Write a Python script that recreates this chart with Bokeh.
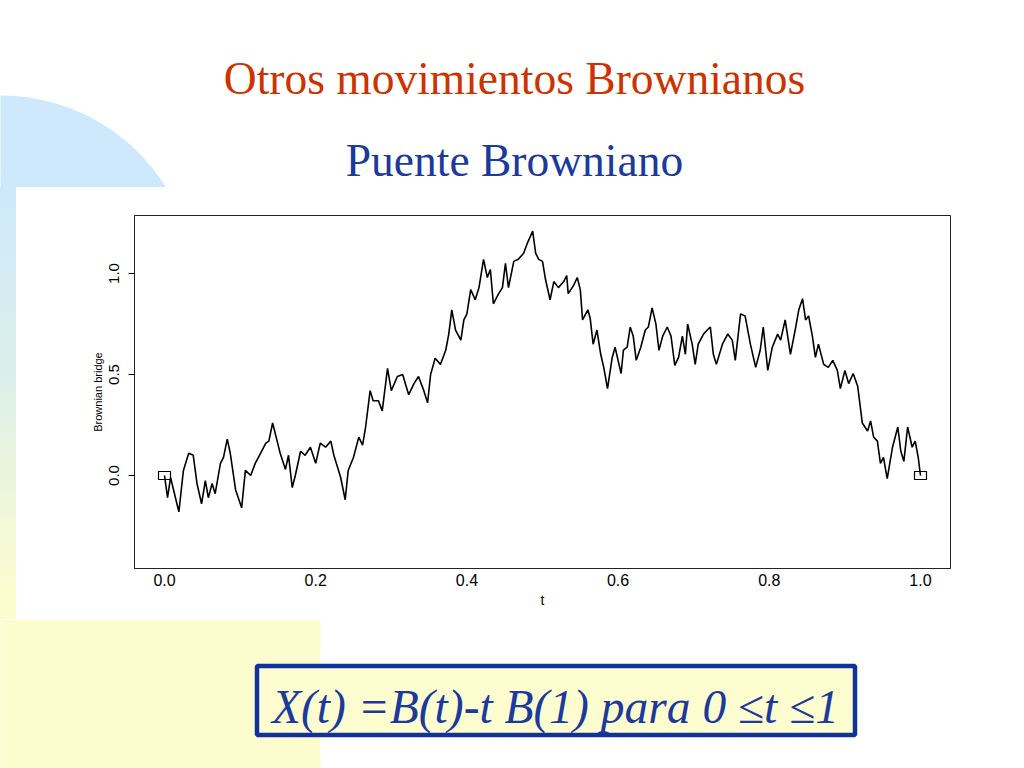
from bokeh.plotting import figure
from bokeh.layouts import column, row
from bokeh.models import Range1d, FixedTicker, PrintfTickFormatter, Label
from bokeh.embed import file_html
from bokeh.resources import INLINE

title_text = "Otros movimientos Brownianos"
subtitle_text = "Puente Browniano"
formula_text = "X(t) =B(t)-t B(1) para 0 \u2264t \u22641"
x_label = "t"
y_label = "Brownian bridge"

t_vals = [
    0.000, 0.004, 0.008, 0.019, 0.025, 0.032, 0.038, 0.043, 0.049, 0.054,
    0.058, 0.063, 0.067, 0.074, 0.078, 0.083, 0.087, 0.094, 0.102, 0.107,
    0.114, 0.120, 0.127, 0.134, 0.138, 0.143, 0.149, 0.153, 0.160, 0.164,
    0.169, 0.173, 0.180, 0.186, 0.193, 0.200, 0.206, 0.213, 0.220, 0.224,
    0.229, 0.233, 0.239, 0.243, 0.250, 0.257, 0.262, 0.266, 0.272, 0.276,
    0.283, 0.288, 0.295, 0.300, 0.308, 0.315, 0.323, 0.330, 0.336, 0.343,
    0.348, 0.352, 0.358, 0.365, 0.372, 0.376, 0.380, 0.385, 0.392, 0.396,
    0.400, 0.405, 0.411, 0.416, 0.422, 0.427, 0.431, 0.435, 0.442, 0.447,
    0.451, 0.455, 0.462, 0.468, 0.475, 0.480, 0.487, 0.491, 0.495, 0.500,
    0.504, 0.510, 0.515, 0.521, 0.528, 0.532, 0.534, 0.541, 0.546, 0.550,
    0.553, 0.560, 0.563, 0.567, 0.572, 0.577, 0.581, 0.586, 0.592, 0.596,
    0.600, 0.604, 0.607, 0.612, 0.616, 0.620, 0.624, 0.630, 0.636, 0.640,
    0.645, 0.650, 0.654, 0.659, 0.665, 0.670, 0.675, 0.680, 0.685, 0.689,
    0.692, 0.698, 0.702, 0.706, 0.713, 0.718, 0.722, 0.726, 0.730, 0.738,
    0.745, 0.751, 0.755, 0.762, 0.768, 0.775, 0.782, 0.788, 0.792, 0.798,
    0.804, 0.811, 0.815, 0.821, 0.828, 0.835, 0.839, 0.844, 0.848, 0.852,
    0.857, 0.861, 0.865, 0.872, 0.878, 0.884, 0.890, 0.894, 0.900, 0.905,
    0.911, 0.917, 0.923, 0.930, 0.934, 0.938, 0.943, 0.947, 0.951, 0.956,
    0.963, 0.970, 0.974, 0.978, 0.983, 0.989, 0.993, 0.997, 1.000]

bridge_vals = [
    0.00, -0.11, -0.01, -0.18, 0.025, 0.11, 0.10, -0.04, -0.14, -0.025,
    -0.11, -0.04, -0.09, 0.06, 0.09, 0.18, 0.11, -0.07, -0.16, 0.025,
    0.00, 0.06, 0.11, 0.16, 0.17, 0.26, 0.17, 0.11, 0.03, 0.10,
    -0.06, 0.00, 0.12, 0.10, 0.14, 0.06, 0.16, 0.14, 0.17, 0.10,
    0.04, -0.01, -0.12, 0.025, 0.09, 0.19, 0.15, 0.24, 0.42, 0.37,
    0.37, 0.32, 0.53, 0.42, 0.49, 0.50, 0.40, 0.455, 0.49, 0.42,
    0.36, 0.50, 0.58, 0.55, 0.62, 0.70, 0.82, 0.72, 0.67, 0.77,
    0.80, 0.92, 0.87, 0.93, 1.07, 0.98, 1.02, 0.85, 0.90, 0.93,
    1.05, 0.93, 1.06, 1.07, 1.10, 1.15, 1.21, 1.10, 1.07, 1.06,
    0.97, 0.87, 0.96, 0.93, 0.96, 0.99, 0.90, 0.94, 0.98, 0.92,
    0.77, 0.82, 0.78, 0.65, 0.72, 0.60, 0.535, 0.43, 0.58, 0.635,
    0.57, 0.505, 0.62, 0.635, 0.735, 0.69, 0.57, 0.635, 0.72, 0.735,
    0.83, 0.75, 0.62, 0.69, 0.735, 0.69, 0.545, 0.585, 0.69, 0.60,
    0.75, 0.65, 0.55, 0.65, 0.70, 0.72, 0.735, 0.60, 0.55, 0.65,
    0.70, 0.67, 0.57, 0.80, 0.79, 0.65, 0.535, 0.62, 0.735, 0.52,
    0.635, 0.70, 0.67, 0.77, 0.60, 0.735, 0.82, 0.875, 0.77, 0.79,
    0.69, 0.585, 0.65, 0.55, 0.535, 0.57, 0.52, 0.43, 0.52, 0.455,
    0.505, 0.44, 0.26, 0.22, 0.27, 0.19, 0.17, 0.06, 0.09, -0.015,
    0.14, 0.24, 0.12, 0.07, 0.24, 0.14, 0.17, 0.09, 0.00]

end_t = [0.0, 1.0]
end_vals = [0.0, 0.0]
x_ticks = [0.0, 0.2, 0.4, 0.6, 0.8, 1.0]
y_ticks = [0.0, 0.5, 1.0]

BLUE_BG = "#cde9fb"
YELLOW_BG = "#fdfcce"


def deco(width, height, x0, y0):
    p = figure(width=width, height=height,
               x_range=Range1d(x0, x0 + width), y_range=Range1d(y0 + height, y0),
               output_backend="svg", toolbar_location=None,
               x_axis_location=None, y_axis_location=None,
               min_border=0, outline_line_color=None,
               background_fill_color="white", border_fill_color="white")
    for g in p.grid:
        g.visible = False
    return p


# ---------- top band (page y 0..187) ----------
top = deco(1024, 187, 0, 0)
top.circle(x=[0], y=[290], radius=195, fill_color=BLUE_BG, line_color=None)
top.add_layout(Label(x=514, y=78, text=title_text, text_font="Liberation Serif",
                     text_font_size="45.5px", text_color="#cc3300",
                     text_align="center", text_baseline="alphabetic"))
top.add_layout(Label(x=514, y=160, text=subtitle_text, text_font="Liberation Serif",
                     text_font_size="45.5px", text_color="#1b3a9c",
                     text_align="center", text_baseline="alphabetic"))

# ---------- chart (page y 187..619); left 16px strip is a CSS gradient ----------
chart = figure(frame_width=816, frame_height=353,
               x_range=Range1d(-0.0397, 1.0397), y_range=Range1d(-0.4604, 1.287),
               output_backend="svg", toolbar_location=None,
               min_border_left=134, min_border_right=74,
               min_border_top=28, min_border_bottom=51,
               background_fill_color="white", border_fill_alpha=0,
               outline_line_color="#222222", outline_line_width=1)
chart.styles = {
    "background": "linear-gradient(to bottom, %s 0%%, #dcefe9 45%%, %s 95%%) "
                  "0 0 / 16px 100%% no-repeat, #ffffff" % (BLUE_BG, YELLOW_BG)
}
chart.grid.visible = False
chart.line(t_vals, bridge_vals, line_color="black", line_width=1.6)
chart.rect(x=end_t, y=end_vals, width=12, height=8, width_units="screen",
           height_units="screen", fill_color=None, line_color="black", line_width=1.2)

xa = chart.xaxis[0]
xa.ticker = FixedTicker(ticks=x_ticks)
xa.formatter = PrintfTickFormatter(format="%.1f")
xa.axis_label = x_label
xa.major_tick_out = 0
xa.major_tick_in = 0
xa.minor_tick_out = 0
xa.minor_tick_in = 0
xa.major_label_standoff = 5
xa.axis_label_standoff = 3
xa.major_label_text_font = "Liberation Sans"
xa.major_label_text_font_size = "16px"
xa.major_label_text_color = "black"
xa.axis_label_text_font = "Liberation Sans"
xa.axis_label_text_font_size = "14px"
xa.axis_label_text_font_style = "normal"
xa.axis_label_text_color = "black"
xa.axis_line_color = "#222222"

ya = chart.yaxis[0]
ya.ticker = FixedTicker(ticks=y_ticks)
ya.formatter = PrintfTickFormatter(format="%.1f")
ya.axis_label = y_label
ya.major_tick_out = 6
ya.major_tick_in = 0
ya.minor_tick_out = 0
ya.minor_tick_in = 0
ya.major_tick_line_color = "black"
ya.major_label_orientation = "vertical"
ya.major_label_standoff = 9
ya.axis_label_standoff = 3
ya.major_label_text_font = "Liberation Sans"
ya.major_label_text_font_size = "15px"
ya.major_label_text_color = "black"
ya.axis_label_text_font = "Liberation Sans"
ya.axis_label_text_font_size = "11px"
ya.axis_label_text_font_style = "normal"
ya.axis_label_text_color = "black"
ya.axis_line_color = "#222222"

# ---------- bottom band (page y 619..768) ----------
bottom = deco(1024, 149, 0, 619)
bottom.quad(left=[-2], right=[320], top=[619], bottom=[780],
            fill_color=YELLOW_BG, line_color=None)
bottom.quad(left=[256.5], right=[854.5], top=[665.5], bottom=[734.5],
            fill_color="#fdfdd0", line_color="#10329a", line_width=4.5)
bottom.add_layout(Label(x=555, y=706, text=formula_text, text_font="Liberation Serif",
                        text_font_size="47.5px", text_font_style="italic",
                        text_color="#1b3a9c", text_align="center",
                        text_baseline="alphabetic"))

layout = column(top, row(chart), bottom)
open("out.html", "w").write(file_html(layout, INLINE))
